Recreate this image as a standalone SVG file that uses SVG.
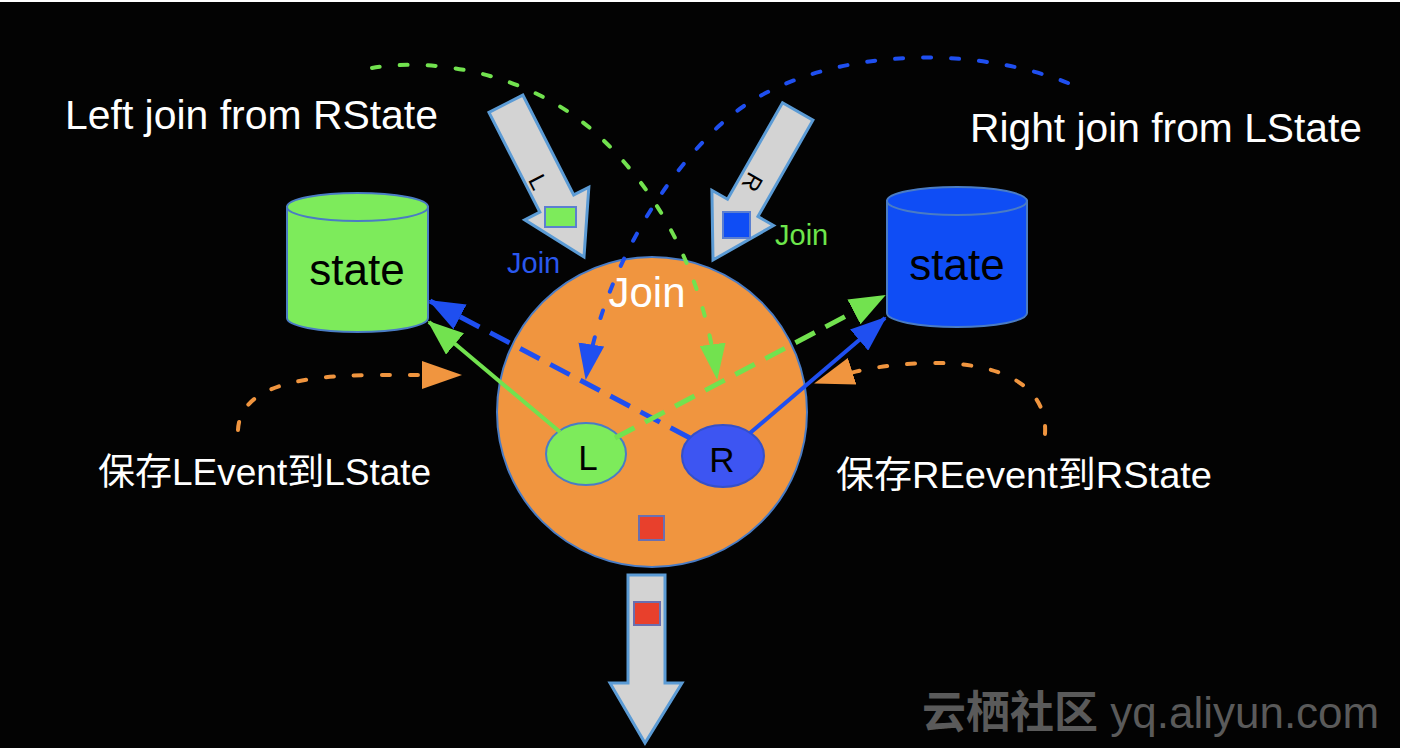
<svg xmlns="http://www.w3.org/2000/svg" width="1406" height="748" viewBox="0 0 1406 748">
<defs>
<style>
.txt{font-family:"Liberation Sans","Noto Sans CJK SC",sans-serif}
.white{fill:#ffffff}
.gray-arrow{fill:#d3d3d3;stroke:#5b9bd5;stroke-width:3;stroke-linejoin:miter}
.outline{stroke:#4a7cc4;stroke-width:2}
.dotted{fill:none;stroke-width:4;stroke-linecap:round;stroke-dasharray:8 20}
.dashed{fill:none;stroke-width:5;stroke-dasharray:22 12}
.solid{fill:none;stroke-width:4}
</style>
<marker id="mGreenBig" markerUnits="userSpaceOnUse" markerWidth="36" markerHeight="28" refX="34" refY="14" orient="auto"><path d="M0,0 L36,14 L0,28 Z" fill="#72e24f"/></marker>
<marker id="mBlueBig" markerUnits="userSpaceOnUse" markerWidth="36" markerHeight="28" refX="34" refY="14" orient="auto"><path d="M0,0 L36,14 L0,28 Z" fill="#1f4ff0"/></marker>
<marker id="mGreen" markerUnits="userSpaceOnUse" markerWidth="36" markerHeight="26" refX="34" refY="13" orient="auto"><path d="M0,0 L36,13 L0,26 Z" fill="#72e24f"/></marker>
<marker id="mBlue" markerUnits="userSpaceOnUse" markerWidth="36" markerHeight="26" refX="34" refY="13" orient="auto"><path d="M0,0 L36,13 L0,26 Z" fill="#1f4ff0"/></marker>
<marker id="mOrange" markerUnits="userSpaceOnUse" markerWidth="40" markerHeight="28" refX="38" refY="14" orient="auto"><path d="M0,0 L40,14 L0,28 Z" fill="#f0953f"/></marker>
</defs>
<rect x="0" y="0" width="1406" height="748" fill="#ffffff"/>
<rect x="0" y="2" width="1400" height="746" fill="#030303"/>

<g id="label-left-join">
<text class="txt white" x="65" y="129" font-size="41" textLength="373" lengthAdjust="spacingAndGlyphs">Left join from RState</text>
</g>
<g id="label-right-join">
<text class="txt white" x="970" y="142" font-size="41" textLength="392" lengthAdjust="spacingAndGlyphs">Right join from LState</text>
</g>
<g id="label-save-left">
<text class="txt white" x="98" y="485" font-size="37">保存LEvent到LState</text>
</g>
<g id="label-save-right">
<text class="txt white" x="836" y="488" font-size="37" textLength="376" lengthAdjust="spacingAndGlyphs">保存REevent到RState</text>
</g>

<g id="left-state">
<path d="M287,207 V318 A70.5,14 0 0 0 428,318 V207 Z" fill="#7deb5b" class="outline"/>
<ellipse cx="357.5" cy="207" rx="70.5" ry="14" fill="#7deb5b" class="outline"/>
<text class="txt" x="357" y="285" font-size="44" text-anchor="middle" fill="#000">state</text>
</g>

<g id="right-state">
<path d="M887,201 V313 A70,14 0 0 0 1027,313 V201 Z" fill="#0f4df5" class="outline"/>
<ellipse cx="957" cy="201" rx="70" ry="14" fill="#0f4df5" class="outline"/>
<text class="txt" x="957" y="280" font-size="44" text-anchor="middle" fill="#000">state</text>
</g>

<g id="join-node">
<circle cx="652" cy="412" r="155" fill="#f0953f" stroke="#4a7cc4" stroke-width="2"/>
<text class="txt white" x="647" y="307" font-size="42" text-anchor="middle">Join</text>
<rect x="639" y="516" width="25" height="24" fill="#e8402c" stroke="#6a6fb0" stroke-width="2"/>
</g>

<g id="l-node">
<ellipse cx="586" cy="454" rx="40" ry="31" fill="#7deb5b" stroke="#4a7cc4" stroke-width="2"/>
<text class="txt" x="588" y="470" font-size="35" text-anchor="middle" fill="#000">L</text>
</g>

<g id="r-node">
<ellipse cx="723" cy="456" rx="41" ry="31" fill="#3d55f2" stroke="#3550c8" stroke-width="2"/>
<text class="txt" x="722" y="472" font-size="35" text-anchor="middle" fill="#000">R</text>
</g>

<g id="input-l">
<polygon class="gray-arrow" transform="translate(584,257) rotate(-27)" points="-19,-172 19,-172 19,-60 36,-60 0,0 -36,-60 -19,-60"/>
<text class="txt" x="0" y="0" font-size="24" fill="#000" transform="translate(538,182) rotate(63)" text-anchor="middle" dy="8">L</text>
<rect x="545" y="207" width="31" height="20" fill="#7deb5b" stroke="#5b7fd0" stroke-width="2"/>
<text class="txt" x="507" y="273" font-size="29" fill="#2a58ee">Join</text>
</g>

<g id="input-r">
<polygon class="gray-arrow" transform="translate(713,260) rotate(29.7)" points="-17.5,-171 17.5,-171 17.5,-60 35.5,-60 0,0 -35.5,-60 -17.5,-60"/>
<text class="txt" x="0" y="0" font-size="24" fill="#000" transform="translate(752,182) rotate(120)" text-anchor="middle" dy="8">R</text>
<rect x="723" y="212" width="27" height="26" fill="#0f4df5" stroke="#5b7fd0" stroke-width="2"/>
<text class="txt" x="775" y="245" font-size="29" fill="#6de64b">Join</text>
</g>

<g id="output">
<polygon class="gray-arrow" points="628,575 665,575 665,683 682,683 645,743 610,683 628,683"/>
<rect x="634" y="602" width="26" height="23" fill="#e8402c" stroke="#6a6fb0" stroke-width="2"/>
</g>

<g id="watermark">
<text class="txt" x="922" y="728" font-size="44" fill="#5a5a5a"><tspan font-weight="bold">云栖社区</tspan> yq.aliyun.com</text>
</g>

<g id="connectors">
<path class="dashed" stroke="#1f4ff0" d="M690,438 L430,301" marker-end="url(#mBlueBig)"/>
<path class="dashed" stroke="#72e24f" d="M615,438 L884,296" marker-end="url(#mGreenBig)"/>
<path class="solid" stroke="#72e24f" d="M560,432 L429,322" marker-end="url(#mGreenBig)"/>
<path class="solid" stroke="#1f4ff0" d="M750,433 L885,318" marker-end="url(#mBlueBig)"/>
<path class="dotted" stroke="#72e24f" d="M372,68 C430,58 520,70 590,128 C650,180 702,262 717,378" marker-end="url(#mGreen)"/>
<path class="dotted" stroke="#1f4ff0" d="M1068,83 C960,40 800,50 720,125 C650,190 600,290 586,378" marker-end="url(#mBlue)"/>
<path class="dotted" stroke="#f0953f" d="M238,430 C240,390 290,376 370,375 L460,375" marker-end="url(#mOrange)"/>
<path class="dotted" stroke="#f0953f" d="M1045,434 C1048,385 1000,362 930,363 C880,364 850,372 816,383" marker-end="url(#mOrange)"/>
</g>
</svg>
